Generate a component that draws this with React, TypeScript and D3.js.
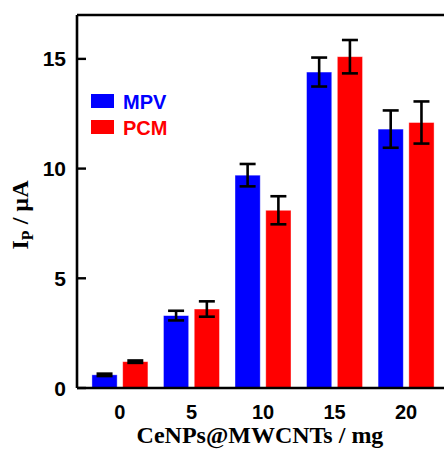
import React, { useEffect, useRef } from 'react';
import * as d3 from 'd3';

// amounts of CeNPs@MWCNTs (mg)
const amounts = [0, 5, 10, 15, 20];
const seriesNames = ['MPV', 'PCM'];
const seriesColors = ['#0000ff', '#ff0000'];
// peak currents (µA) and their error bars
const mpvValues = [0.6, 3.3, 9.7, 14.4, 11.8];
const mpvErrors = [0.05, 0.22, 0.51, 0.66, 0.85];
const pcmValues = [1.2, 3.6, 8.1, 15.1, 12.1];
const pcmErrors = [0.05, 0.35, 0.64, 0.76, 0.96];
const yTicks = [0, 5, 10, 15];

const App = () => {
    const ref = useRef<SVGSVGElement>(null);

    useEffect(() => {
        document.body.style.margin = '0';
        const width = 444;
        const height = 450;

        const svg = d3.select(ref.current)
            .attr('width', width)
            .attr('height', height);
        svg.selectAll('*').remove();

        const left = 77, bottom = 388, top = 15;

        const x = d3.scaleLinear().domain([-3, 23]).range([left, 449]);
        const y = d3.scaleLinear().domain([0, 17]).range([bottom, top]);
        const sub = d3.scaleBand().domain(seriesNames).range([-28, 28]).paddingInner(0.18);

        const values = [mpvValues, pcmValues];
        const errors = [mpvErrors, pcmErrors];

        const rows = seriesNames.flatMap((name, s) =>
            amounts.map((a, i) => ({ name, s, a, v: values[s][i], e: errors[s][i] }))
        );

        // bars
        svg.append('g')
            .selectAll('rect')
            .data(rows)
            .enter()
            .append('rect')
            .attr('x', d => x(d.a) + (sub(d.name) as number))
            .attr('y', d => y(d.v))
            .attr('width', sub.bandwidth())
            .attr('height', d => bottom - y(d.v))
            .attr('fill', d => seriesColors[d.s])
            .attr('stroke', 'rgba(255,255,255,0.5)')
            .attr('stroke-width', 0.8);

        // error bars
        const eb = svg.append('g').attr('stroke', '#000').attr('stroke-width', 2.6).attr('fill', 'none');
        rows.forEach(d => {
            const cx = x(d.a) + (sub(d.name) as number) + sub.bandwidth() / 2;
            const y1 = y(d.v + d.e), y2 = y(d.v - d.e);
            if (y2 - y1 < 4) {
                eb.append('rect')
                    .attr('x', cx - 8).attr('y', (y1 + y2) / 2 - 2.5)
                    .attr('width', 16).attr('height', 5)
                    .attr('fill', '#000').attr('stroke', 'none');
                return;
            }
            eb.append('line').attr('x1', cx).attr('x2', cx).attr('y1', y1).attr('y2', y2);
            eb.append('line').attr('x1', cx - 8).attr('x2', cx + 8).attr('y1', y1).attr('y2', y1);
            eb.append('line').attr('x1', cx - 8).attr('x2', cx + 8).attr('y1', y2).attr('y2', y2);
        });

        // axes frame
        const frame = svg.append('g').attr('stroke', '#000').attr('stroke-width', 2.6);
        frame.append('line').attr('x1', left).attr('x2', width).attr('y1', bottom).attr('y2', bottom);
        frame.append('line').attr('x1', left).attr('x2', left).attr('y1', top).attr('y2', bottom);
        frame.append('line').attr('x1', left).attr('x2', width).attr('y1', top).attr('y2', top);

        // y ticks (inward)
        svg.append('g')
            .selectAll('line')
            .data(yTicks)
            .enter()
            .append('line')
            .attr('x1', left).attr('x2', left + 9)
            .attr('y1', d => y(d)).attr('y2', d => y(d))
            .attr('stroke', '#000').attr('stroke-width', 2.4);

        svg.append('g')
            .selectAll('text')
            .data(yTicks)
            .enter()
            .append('text')
            .attr('x', 66)
            .attr('y', d => y(d) + 7.5)
            .attr('text-anchor', 'end')
            .attr('font-family', 'Liberation Sans, Arial, sans-serif')
            .attr('font-weight', 'bold')
            .attr('font-size', 21)
            .text(d => d);

        // x tick labels
        svg.append('g')
            .selectAll('text')
            .data(amounts)
            .enter()
            .append('text')
            .attr('x', d => x(d))
            .attr('y', 419)
            .attr('text-anchor', 'middle')
            .attr('font-family', 'Liberation Sans, Arial, sans-serif')
            .attr('font-weight', 'bold')
            .attr('font-size', 20)
            .text(d => d);

        // axis titles
        svg.append('text')
            .attr('x', 260)
            .attr('y', 443)
            .attr('text-anchor', 'middle')
            .attr('font-family', 'Liberation Serif, Times New Roman, serif')
            .attr('font-weight', 'bold')
            .attr('font-size', 24)
            .text('CeNPs@MWCNTs / mg');

        const yl = svg.append('text')
            .attr('transform', 'translate(28,215) rotate(-90)')
            .attr('text-anchor', 'middle')
            .attr('font-family', 'Liberation Serif, Times New Roman, serif')
            .attr('font-weight', 'bold')
            .attr('font-size', 24);
        yl.append('tspan').text('I');
        yl.append('tspan').attr('font-size', 16).attr('dy', 5).text('P');
        yl.append('tspan').attr('dy', -5).text(' / µA');

        // legend
        const lg = svg.append('g');
        seriesNames.forEach((name, i) => {
            lg.append('rect')
                .attr('x', 91).attr('y', 94 + i * 26)
                .attr('width', 23).attr('height', 14)
                .attr('fill', seriesColors[i]);
            lg.append('text')
                .attr('x', 123).attr('y', 109 + i * 26)
                .attr('font-family', 'Liberation Sans, Arial, sans-serif')
                .attr('font-weight', 'bold')
                .attr('font-size', 20)
                .attr('fill', seriesColors[i])
                .text(name);
        });
    }, []);

    return <svg ref={ref}></svg>;
};

export default App;
